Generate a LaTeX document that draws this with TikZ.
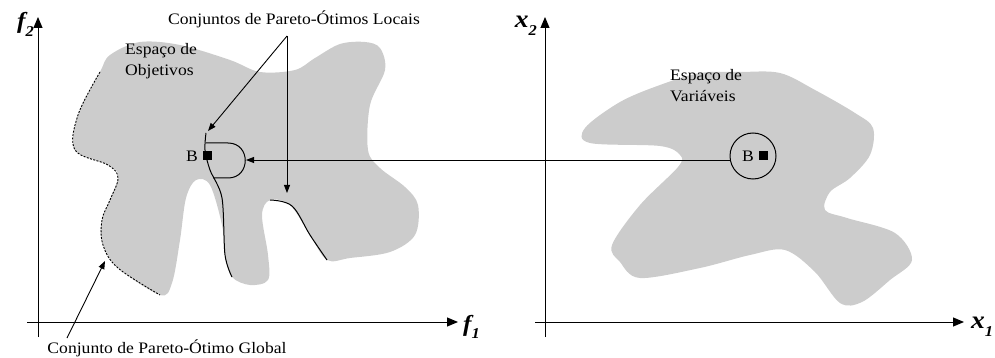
\documentclass[tikz,border=0pt]{standalone}
\usepackage{fontspec}
\setmainfont{Liberation Serif}[FakeStretch=1.1]
\usetikzlibrary{arrows.meta, positioning}
\definecolor{regiongray}{RGB}{204,204,204}
\newcommand{\axsub}[1]{\raisebox{-0.32em}{\fontsize{15}{15}\selectfont #1}}

\begin{document}
\begin{tikzpicture}[
  x=1pt, y=-1pt,
  txt/.style={font=\fontsize{16}{21.5}\selectfont},
  axis/.style={-{Triangle[length=11pt,width=9pt]}, line width=1pt},
  arr/.style={-{Triangle[length=8pt,width=6pt]}, line width=0.9pt},
  region/.style={fill=regiongray, draw=none},
  front/.style={line width=1pt},
  globalfront/.style={line width=0.9pt, dash pattern=on 2pt off 1.4pt},
  flabel/.style={font=\fontsize{23}{23}\selectfont\bfseries\itshape, inner sep=0pt},
  xlabel/.style={font=\fontsize{25}{25}\selectfont\bfseries\itshape, inner sep=0pt},
  point/.style={fill=black, inner sep=0pt, minimum size=9pt}
]
\useasboundingbox (0,0) rectangle (995,358);

% objective space
\fill[region] plot[smooth cycle, tension=0.55] coordinates {
  (100,72) (110,55) (140,42) (180,45) (230,60) (260,72) (295,70) (315,58)
  (340,44) (365,42) (380,48) (385,70) (370,105) (368,150) (380,168)
  (405,187) (418,205) (415,235) (390,252) (350,258) (327,260) (310,235)
  (290,205) (270,200) (262,215) (268,255) (268,280) (250,285) (232,277)
  (225,255) (222,225) (210,185) (196,180) (186,198) (180,240) (172,283)
  (160,295) (118,268) (103,245) (102,220) (118,178) (108,165) (75,150)
  (78,115)};

% decision space
\fill[region] plot[smooth cycle, tension=0.55] coordinates {
  (585,128) (620,102) (660,85) (700,73) (740,72) (780,73) (815,90)
  (855,113) (873,128) (870,155) (850,178) (830,192) (825,210) (847,218)
  (895,233) (912,260) (890,280) (862,302) (840,303) (815,272) (785,250)
  (750,255) (700,268) (640,278) (620,262) (612,245) (640,205) (678,167)
  (680,155) (660,146) (590,143)};

% axes
\draw[axis] (38,337) -- (38,17) coordinate (f2top);
\draw[axis] (27,322) -- (458,322) coordinate (f1end);
\node[flabel, anchor=base east] (f2) at (34,29) {f\axsub{2}};
\node[flabel, anchor=base west] (f1) at (463,331) {f\axsub{1}};

\draw[axis] (545,337) -- (545,17) coordinate (x2top);
\draw[axis] (535,322) -- (964,322) coordinate (x1end);
\node[xlabel, anchor=base east] (x2) at (537,28) {x\axsub{2}};
\node[xlabel, anchor=base west] (x1) at (971,328) {x\axsub{1}};

% pareto fronts
\draw[globalfront] plot[smooth, tension=0.6] coordinates {
  (100,72) (78,115) (75,150) (108,165) (118,178) (110,200) (102,220)
  (103,245) (118,268) (160,295)};
\draw[front] plot[smooth, tension=0.5] coordinates {
  (206,133) (205,150) (210,170) (222,198) (225,255) (232,277)};
\draw[front] plot[smooth, tension=0.6] coordinates {
  (270,200) (292,206) (310,235) (327,260)};
\draw[front] (206,143) -- (228,143) .. controls (251,143) and (251,178) .. (228,178) -- (213,178);
\coordinate (loop) at (246,160);

% point B
\node[point] (bobj) at (207,156) {};
\node[txt, left=1pt of bobj] (bobjlbl) {B};
\node[draw, circle, line width=1pt, minimum size=46pt] (bvar) at (753,156) {};
\node[point] (bvarpt) at (763,156) {};
\node[txt, left=1pt of bvarpt] (bvarlbl) {B};
\draw[arr] (bvar.west |- loop) -- (loop);

% labels
\node[txt, align=left, anchor=base west, inner sep=0pt] (objlbl) at (125,76) {Espaço de\\Objetivos};
\node[txt, align=left, anchor=base west, inner sep=0pt] (varlbl) at (670,102) {Espaço de\\Variáveis};

\node[txt, anchor=base] (loclbl) at (294,25) {Conjuntos de Pareto-Ótimos Locais};
\coordinate (locsrc) at (287,36);
\coordinate (loc1) at (208,131);
\coordinate (loc2) at (287,193);
\draw[arr] (locsrc) -- (loc1);
\draw[arr] (locsrc) -- (loc2);

\node[txt, anchor=base] (glblbl) at (167,353) {Conjunto de Pareto-Ótimo Global};
\coordinate (glbsrc) at (67,338);
\coordinate (glbtip) at (105,261);
\draw[arr] (glbsrc) -- (glbtip);
\end{tikzpicture}
\end{document}
